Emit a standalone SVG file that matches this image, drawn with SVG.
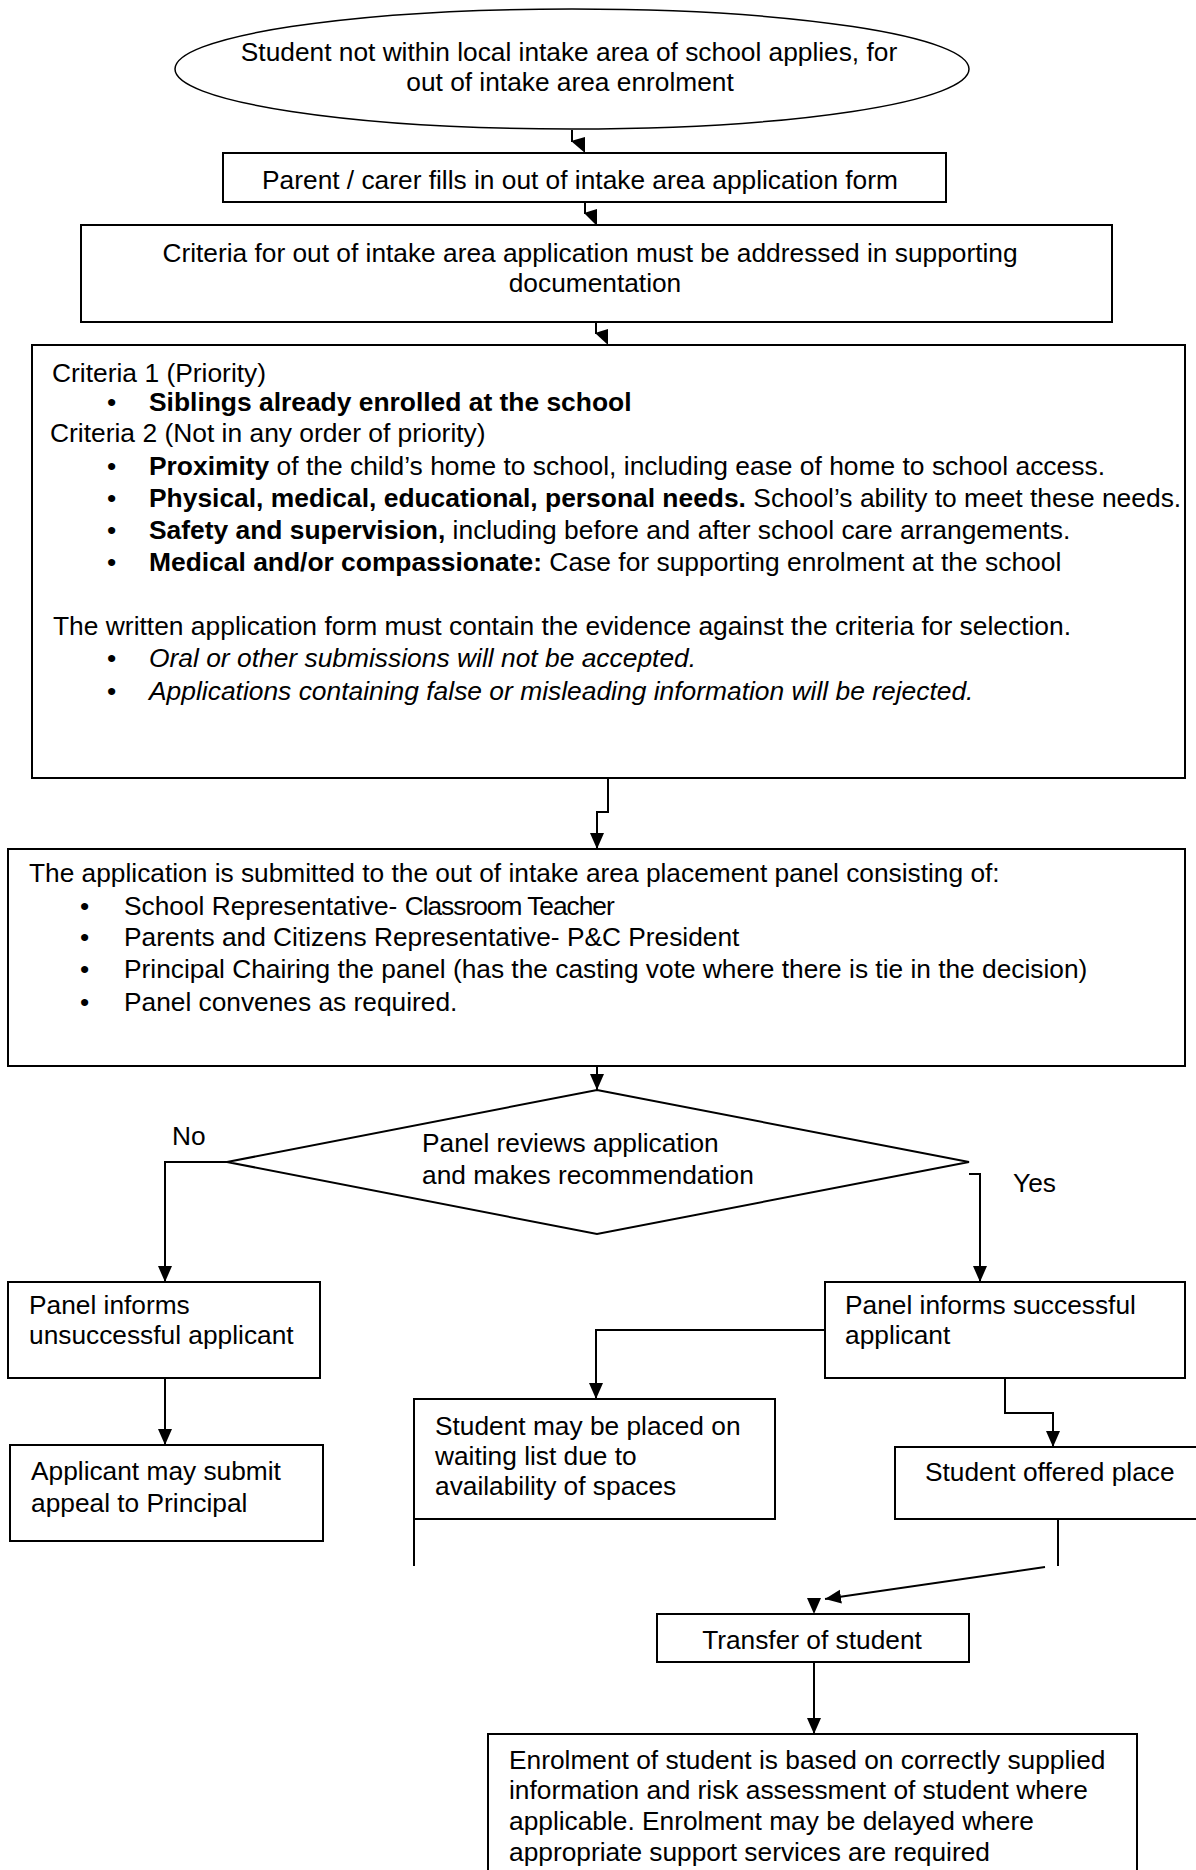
<svg xmlns="http://www.w3.org/2000/svg" width="1196" height="1870" viewBox="0 0 1196 1870">
<defs>
<marker id="ah" markerUnits="userSpaceOnUse" markerWidth="16" markerHeight="18" refX="16" refY="7" orient="auto">
<path d="M0,0 L16,7 L0,14 Z" fill="#000"/>
</marker>
<style>
text{font-family:"Liberation Sans",Arial,sans-serif;font-size:26.3px;fill:#000}
#n4 text{font-size:26.4px}
.c{text-anchor:middle}
.b{font-weight:bold}
.i{font-style:italic}
.box{fill:#fff;stroke:#000;stroke-width:2}
.ln{fill:none;stroke:#000;stroke-width:2}
.arr{fill:none;stroke:#000;stroke-width:2;marker-end:url(#ah)}
.hd{fill:#000;stroke:none}
</style>
</defs>
<rect width="1196" height="1870" fill="#fff"/>

<g id="connectors">
<path class="ln" d="M572,130 V142"/>
<polygon class="hd" points="571,141 585,137 585,153"/>
<path class="ln" d="M585,202 V214"/>
<polygon class="hd" points="584,213 597,209 597,226"/>
<path class="ln" d="M596,322 V334"/>
<polygon class="hd" points="595,333 608,329 608,345"/>
<path class="arr" d="M608,778 V812 H597 V849"/>
<path class="arr" d="M597,1066 V1090"/>
<path class="arr" d="M227,1162 H165 V1282"/>
<path class="arr" d="M969,1174 H980 V1282"/>
<path class="arr" d="M165,1378 V1445"/>
<path class="arr" d="M825,1330 H596 V1399"/>
<path class="arr" d="M1005,1378 V1413 H1053 V1447"/>
<path class="ln" d="M414,1519 V1566"/>
<path class="ln" d="M1058,1519 V1566"/>
<path class="arr" d="M1045,1567 L825,1599"/>
<polygon class="hd" points="807,1598 821,1598 814,1614"/>
<path class="arr" d="M814,1662 V1734"/>
</g>

<g id="n1">
<ellipse class="box" cx="572" cy="69" rx="397" ry="60" style="stroke-width:1.5"/>
<text class="c" x="569" y="61">Student not within local intake area of school applies, for</text>
<text class="c" x="570" y="91">out of intake area enrolment</text>
</g>

<g id="n2">
<rect class="box" x="223" y="153" width="723" height="49"/>
<text class="c" x="580" y="189">Parent / carer fills in out of intake area application form</text>
</g>

<g id="n3">
<rect class="box" x="81" y="225" width="1031" height="97"/>
<text class="c" x="590" y="262">Criteria for out of intake area application must be addressed in supporting</text>
<text class="c" x="595" y="292">documentation</text>
</g>

<g id="n4">
<rect class="box" x="32" y="345" width="1153" height="433"/>
<text x="52" y="382">Criteria 1 (Priority)</text>
<text x="107" y="411">•</text>
<text class="b" x="149" y="411">Siblings already enrolled at the school</text>
<text x="50" y="442">Criteria 2 (Not in any order of priority)</text>
<text x="107" y="475">•</text>
<text x="149" y="475"><tspan class="b">Proximity</tspan> of the child’s home to school, including ease of home to school access.</text>
<text x="107" y="507">•</text>
<text x="149" y="507"><tspan class="b">Physical, medical, educational, personal needs.</tspan> School’s ability to meet these needs.</text>
<text x="107" y="539">•</text>
<text x="149" y="539"><tspan class="b">Safety and supervision,</tspan> including before and after school care arrangements.</text>
<text x="107" y="571">•</text>
<text x="149" y="571"><tspan class="b">Medical and/or compassionate:</tspan> Case for supporting enrolment at the school</text>
<text x="53" y="635">The written application form must contain the evidence against the criteria for selection.</text>
<text x="107" y="667">•</text>
<text class="i" x="149" y="667">Oral or other submissions will not be accepted.</text>
<text x="107" y="700">•</text>
<text class="i" x="149" y="700">Applications containing false or misleading information will be rejected.</text>
</g>

<g id="n5">
<rect class="box" x="8" y="849" width="1177" height="217"/>
<text x="29" y="882">The application is submitted to the out of intake area placement panel consisting of:</text>
<text x="80" y="915">•</text>
<text x="124" y="915">School Representative- <tspan letter-spacing="-1">Classroom Teacher</tspan></text>
<text x="80" y="946">•</text>
<text x="124" y="946">Parents and Citizens Representative- P&amp;C President</text>
<text x="80" y="978">•</text>
<text x="124" y="978">Principal Chairing the panel (has the casting vote where there is tie in the decision)</text>
<text x="80" y="1011">•</text>
<text x="124" y="1011">Panel convenes as required.</text>
</g>

<g id="n6">
<polygon class="box" points="597,1090 969,1162 597,1234 227,1162"/>
<text x="422" y="1152">Panel reviews application</text>
<text x="422" y="1184">and makes recommendation</text>
</g>

<g id="lbl-no"><text x="172" y="1145">No</text></g>
<g id="lbl-yes"><text x="1013" y="1192">Yes</text></g>

<g id="n7">
<rect class="box" x="8" y="1282" width="312" height="96"/>
<text x="29" y="1314">Panel informs</text>
<text x="29" y="1344">unsuccessful applicant</text>
</g>

<g id="n8">
<rect class="box" x="10" y="1445" width="313" height="96"/>
<text x="31" y="1480">Applicant may submit</text>
<text x="31" y="1512">appeal to Principal</text>
</g>

<g id="n9">
<rect class="box" x="825" y="1282" width="360" height="96"/>
<text x="845" y="1314">Panel informs successful</text>
<text x="845" y="1344">applicant</text>
</g>

<g id="n10">
<rect class="box" x="414" y="1399" width="361" height="120"/>
<text x="435" y="1435">Student may be placed on</text>
<text x="435" y="1465">waiting list due to</text>
<text x="435" y="1495">availability of spaces</text>
</g>

<g id="n11">
<rect class="box" x="895" y="1447" width="303" height="72"/>
<text x="925" y="1481">Student offered place</text>
</g>

<g id="n12">
<rect class="box" x="657" y="1614" width="312" height="48"/>
<text class="c" x="812" y="1649">Transfer of student</text>
</g>

<g id="n13">
<rect class="box" x="488" y="1734" width="649" height="150"/>
<text x="509" y="1769">Enrolment of student is based on correctly supplied</text>
<text x="509" y="1799">information and risk assessment of student where</text>
<text x="509" y="1830">applicable. Enrolment may be delayed where</text>
<text x="509" y="1861">appropriate support services are required</text>
</g>
</svg>
